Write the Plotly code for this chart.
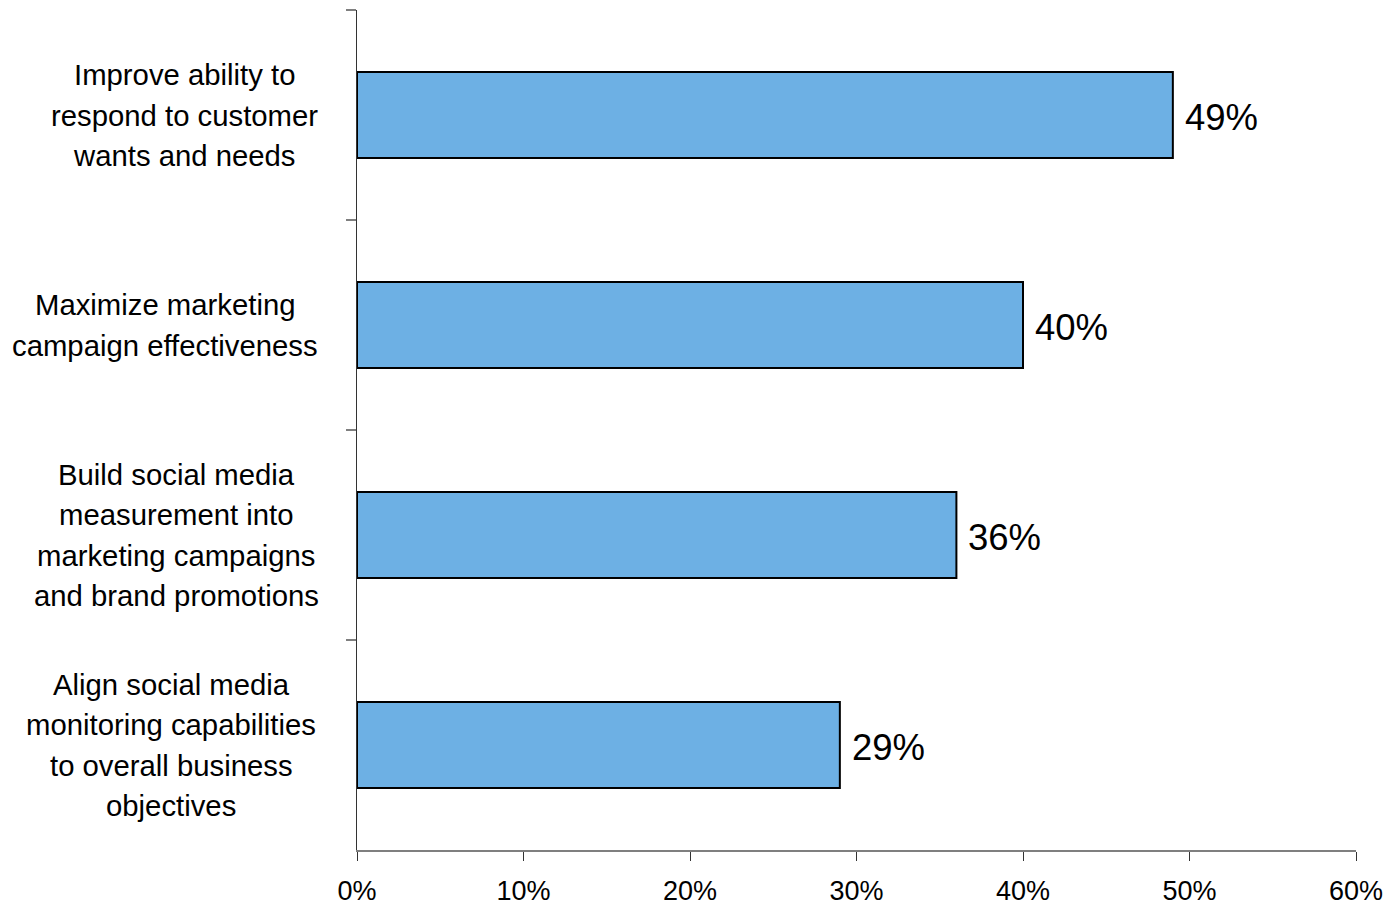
import plotly.graph_objects as go

categories = [
    "Improve ability to respond to customer wants and needs",
    "Maximize marketing campaign effectiveness",
    "Build social media measurement into marketing campaigns and brand promotions",
    "Align social media monitoring capabilities to overall business objectives",
]
label_lines = [
    ["Improve ability to", "respond to customer", "wants and needs"],
    ["Maximize marketing", "campaign effectiveness"],
    ["Build social media", "measurement into", "marketing campaigns", "and brand promotions"],
    ["Align social media", "monitoring capabilities", "to overall business", "objectives"],
]
values = [0.49, 0.40, 0.36, 0.29]
value_labels = ["49%", "40%", "36%", "29%"]
x_ticks = [0, 0.1, 0.2, 0.3, 0.4, 0.5, 0.6]
x_tick_labels = ["0%", "10%", "20%", "30%", "40%", "50%", "60%"]

# style
W, H = 1387, 911
ML, MR, MT, MB = 357, 31, 10, 61
plot_w = W - ML - MR
block_center_px = [184, 165, 176, 171]  # page x of label block centres
line_gap = 40.5
FONT = "Liberation Sans, Arial, sans-serif"

fig = go.Figure(go.Bar(
    y=categories,
    x=values,
    orientation="h",
    width=0.41,
    marker=dict(color="#6DB0E4", line=dict(color="#000000", width=2)),
    hoverinfo="skip",
))

annotations = []
for cat, lines, cpx in zip(categories, label_lines, block_center_px):
    n = len(lines)
    for i, line in enumerate(lines):
        annotations.append(dict(
            text=line, xref="paper", yref="y",
            x=(cpx - ML) / plot_w, y=cat,
            xanchor="center", yanchor="middle",
            yshift=-(i - (n - 1) / 2) * line_gap,
            showarrow=False,
            font=dict(family=FONT, size=29.3, color="#000000"),
        ))
for cat, v, lab in zip(categories, values, value_labels):
    annotations.append(dict(
        text=lab, xref="x", yref="y", x=v, y=cat,
        xanchor="left", yanchor="middle", xshift=10, yshift=-2,
        showarrow=False,
        font=dict(family=FONT, size=36.5, color="#000000"),
    ))

fig.update_layout(
    width=W, height=H,
    margin=dict(l=ML, r=MR, t=MT, b=MB, autoexpand=False),
    paper_bgcolor="white", plot_bgcolor="white",
    showlegend=False,
    annotations=annotations,
    xaxis=dict(
        range=[0, 0.6], tickvals=x_ticks, ticktext=x_tick_labels,
        automargin=False,
        showgrid=False, zeroline=False,
        showline=True, linecolor="#7F7F7F", linewidth=2,
        ticks="outside", ticklen=9, tickcolor="#333333", tickwidth=1,
        tickfont=dict(family=FONT, size=27, color="#000000"),
        ticklabelstandoff=7,
    ),
    yaxis=dict(
        type="category", categoryorder="array", categoryarray=categories,
        range=[3.5, -0.5], automargin=False,
        showgrid=False, zeroline=False,
        showline=True, linecolor="#333333", linewidth=1,
        ticks="outside", tickson="boundaries", ticklen=10,
        tickcolor="#7F7F7F", tickwidth=2,
        showticklabels=False,
    ),
)

fig.write_html(
    "out.html",
    config={"displayModeBar": False},
    post_script="document.body.style.margin='0';document.body.style.overflow='hidden';",
)
